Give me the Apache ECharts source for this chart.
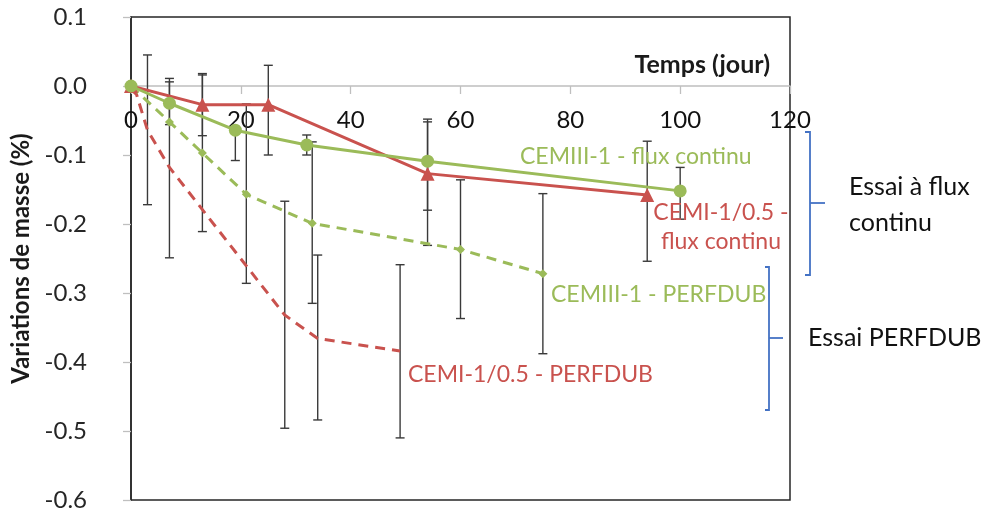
<!DOCTYPE html>
<html>
<head>
<meta charset="utf-8">
<script src="https://cdn.jsdelivr.net/npm/echarts@6/dist/echarts.min.js"></script>
<style>
html,body{margin:0;padding:0;background:#fff;}
#chart{width:986px;height:513px;}
</style>
</head>
<body>
<div id="chart"></div>
<script>
// ---- data (days, % mass variation) ----
const xTicks = [0, 20, 40, 60, 80, 100, 120];
const yTicks = [0.1, 0.0, -0.1, -0.2, -0.3, -0.4, -0.5, -0.6];

const daysCemIIIFlux = [0, 7, 19, 32, 54, 100];
const valCemIIIFlux  = [0, -0.025, -0.064, -0.0855, -0.109, -0.152];
const lowCemIIIFlux  = [null, -0.056, -0.108, -0.100, -0.180, -0.193];
const highCemIIIFlux = [null, 0.006, -0.064, -0.071, -0.048, -0.118];

const daysCemIFlux = [0, 13, 25, 54, 94];
const valCemIFlux  = [0, -0.027, -0.027, -0.127, -0.158];
const lowCemIFlux  = [null, -0.072, -0.100, -0.231, -0.254];
const highCemIFlux = [null, 0.016, 0.030, -0.052, -0.080];

const daysCemIIIPerf = [0, 7, 13, 21, 33, 60, 75];
const valCemIIIPerf  = [0, -0.052, -0.097, -0.157, -0.199, -0.237, -0.272];
const lowCemIIIPerf  = [null, null, -0.211, -0.286, -0.315, -0.337, -0.388];
const highCemIIIPerf = [null, null, 0.018, -0.026, -0.081, -0.136, -0.156];

const daysCemIPerf = [0, 1, 3, 7, 28, 34, 49];
const valCemIPerf  = [-0.005, -0.012, -0.064, -0.118, -0.332, -0.366, -0.384];
const lowCemIPerf  = [null, null, -0.172, -0.249, -0.496, -0.484, -0.510];
const highCemIPerf = [null, null, 0.045, 0.011, -0.167, -0.245, -0.259];

const seriesNames = ['CEMIII-1 - flux continu', 'CEMI-1/0.5 - flux continu', 'CEMIII-1 - PERFDUB', 'CEMI-1/0.5 - PERFDUB'];

// ---- layout / helpers ----
const GREEN = '#9BBB59', RED = '#C9524E', BLUE = '#4472C4';
const FONT = 'Lato';
const GRID = { left: 131, top: 17, right: 196, bottom: 13 };
const PLOT_H = 513 - GRID.top - GRID.bottom;
const yMin = yTicks[yTicks.length - 1], yMax = yTicks[0];
// distance from bottom of the plot to the zero line, so the x axis sits on y = 0
const zeroOffset = PLOT_H * (0 - yMin) / (yMax - yMin);

function pts(d, v) { return d.map((x, i) => [x, v[i]]); }
function errs(d, lo, hi) {
  const out = [];
  d.forEach((x, i) => { if (lo[i] !== null && hi[i] !== null) out.push([x, lo[i], hi[i]]); });
  return out;
}
function renderErr(params, api) {
  const x = api.value(0), lo = api.value(1), hi = api.value(2);
  const a = api.coord([x, hi]), b = api.coord([x, lo]);
  const w = 4.5, st = { stroke: '#3a3a3a', lineWidth: 1.4 };
  return { type: 'group', children: [
    { type: 'line', shape: { x1: a[0], y1: a[1], x2: b[0], y2: b[1] }, style: st },
    { type: 'line', shape: { x1: a[0] - w, y1: a[1], x2: a[0] + w, y2: a[1] }, style: st },
    { type: 'line', shape: { x1: b[0] - w, y1: b[1], x2: b[0] + w, y2: b[1] }, style: st }
  ]};
}
function errSeries(d, lo, hi) {
  return { type: 'custom', renderItem: renderErr, data: errs(d, lo, hi), z: 3, silent: true,
           encode: { x: 0, y: [1, 2] } };
}

const chart = echarts.init(document.getElementById('chart'), null, { renderer: 'canvas' });
const txt = (x, y, text, color, align, size) => ({
  type: 'text', x: x, y: y, z: 20,
  style: { text: text, fill: color, font: (size || 23) + 'px ' + FONT, align: align || 'left', verticalAlign: 'middle' }
});
const pl = (points) => ({ type: 'polyline', z: 20, shape: { points: points },
  style: { stroke: BLUE, lineWidth: 1.8, fill: null } });

chart.setOption({
  animation: false,
  backgroundColor: '#fff',
  textStyle: { fontFamily: FONT },
  grid: Object.assign({ show: true, borderColor: '#262626', borderWidth: 1.5, backgroundColor: 'transparent',
                        containLabel: false, outerBoundsMode: 'none' }, GRID),
  xAxis: {
    type: 'value', min: xTicks[0], max: xTicks[xTicks.length - 1], interval: 20,
    position: 'bottom', offset: -zeroOffset,
    name: 'Temps (jour)', nameLocation: 'end', nameGap: -20,
    nameTextStyle: { fontFamily: FONT, fontSize: 25, fontWeight: 'bold', color: '#1a1a1a', align: 'right', verticalAlign: 'bottom', padding: [0, 0, 9, 0] },
    axisLine: { onZero: false, lineStyle: { color: '#BFBFBF', width: 1.5 } },
    axisTick: { show: true, inside: false, length: 8, lineStyle: { color: '#BFBFBF', width: 1.3 } },
    axisLabel: { fontFamily: FONT, fontSize: 24, color: '#111', margin: 22 },
    splitLine: { show: false }
  },
  yAxis: {
    type: 'value', min: yMin, max: yMax, interval: 0.1,
    name: 'Variations de masse (%)', nameLocation: 'middle', nameGap: 98,
    nameTextStyle: { fontFamily: FONT, fontSize: 24, fontWeight: 'bold', color: '#1a1a1a' },
    axisLine: { show: true, onZero: false, lineStyle: { color: '#262626', width: 1.5 } },
    axisTick: { show: true, inside: false, length: 8, lineStyle: { color: '#BFBFBF', width: 1.3 } },
    axisLabel: { fontFamily: FONT, fontSize: 24, color: '#262626', margin: 44,
      formatter: v => (Math.abs(v) < 1e-9 ? 0 : v).toFixed(1) },
    splitLine: { show: false }
  },
  series: [
    errSeries(daysCemIPerf, lowCemIPerf, highCemIPerf),
    errSeries(daysCemIIIPerf, lowCemIIIPerf, highCemIIIPerf),
    errSeries(daysCemIFlux, lowCemIFlux, highCemIFlux),
    errSeries(daysCemIIIFlux, lowCemIIIFlux, highCemIIIFlux),
    { name: seriesNames[3], type: 'line', data: pts(daysCemIPerf, valCemIPerf), z: 4,
      showSymbol: false, symbol: 'none', lineStyle: { color: RED, width: 3, type: [10, 7] } },
    { name: seriesNames[2], type: 'line', data: pts(daysCemIIIPerf, valCemIIIPerf), z: 5,
      symbol: 'diamond', symbolSize: 9, itemStyle: { color: GREEN }, lineStyle: { color: GREEN, width: 3, type: [10, 7] } },
    { name: seriesNames[1], type: 'line', data: pts(daysCemIFlux, valCemIFlux), z: 6,
      symbol: 'triangle', symbolSize: 14, itemStyle: { color: RED }, lineStyle: { color: RED, width: 3 } },
    { name: seriesNames[0], type: 'line', data: pts(daysCemIIIFlux, valCemIIIFlux), z: 7,
      symbol: 'circle', symbolSize: 13, itemStyle: { color: GREEN }, lineStyle: { color: GREEN, width: 3 } }
  ],
  graphic: [
    txt(520, 157, 'CEMIII-1 - flux continu', GREEN),
    txt(721, 213, 'CEMI-1/0.5 -', RED, 'center'),
    txt(721, 242, 'flux continu', RED, 'center'),
    txt(551, 295, 'CEMIII-1 - PERFDUB', GREEN),
    txt(408, 375, 'CEMI-1/0.5 - PERFDUB', RED),
    txt(849, 187, 'Essai à flux', '#111', 'left', 25),
    txt(849, 223, 'continu', '#111', 'left', 25),
    txt(808, 338, 'Essai PERFDUB', '#111', 'left', 25),
    pl([[805, 132], [810, 132], [810, 275], [805, 275]]),
    pl([[810, 203], [825, 203]]),
    pl([[765, 267], [769, 267], [769, 410], [765, 410]]),
    pl([[769, 338], [783, 338]])
  ]
});
</script>
</body>
</html>
